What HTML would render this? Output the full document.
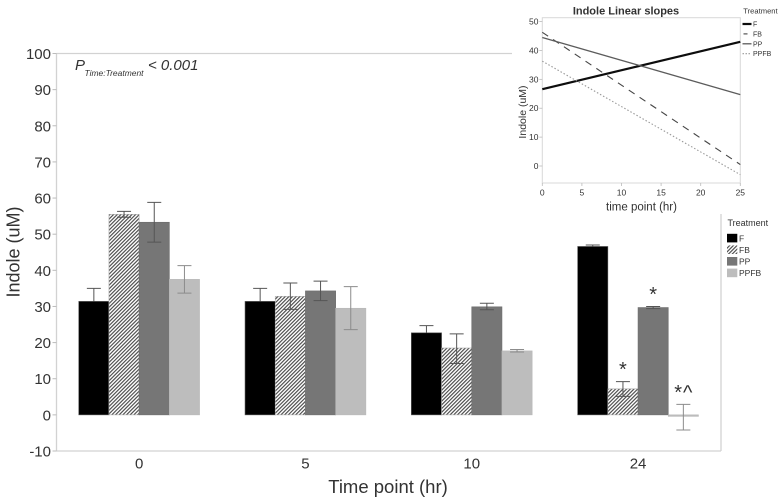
<!DOCTYPE html>
<html>
<head>
<meta charset="utf-8">
<title>Indole chart</title>
<style>
html,body{margin:0;padding:0;background:#fff;}
#chart{display:block;width:783px;height:501px;font-family:"Liberation Sans",sans-serif;}
text{fill:#333;}
</style>
</head>
<body>
<svg id="chart" xmlns="http://www.w3.org/2000/svg" width="783" height="501" viewBox="0 0 783 501">
<defs>
<pattern id="hatch" width="2.6" height="2.6" patternUnits="userSpaceOnUse" patternTransform="rotate(45)">
<rect width="2.6" height="2.6" fill="#ffffff"></rect>
<rect width="1.15" height="2.6" fill="#4a4a4a"></rect>
</pattern>
<filter id="soft" x="-5%" y="-5%" width="110%" height="110%">
<feGaussianBlur stdDeviation="0.3"></feGaussianBlur>
</filter>
</defs>
<g id="main"></g>
<g id="inset" filter="url(#soft)"></g>
<g id="legend-main"></g>
<g id="legend-inset" filter="url(#soft)"></g>
</svg>
<script>
// Main chart data
var timePoints = ["0", "5", "10", "24"];
var treatments = ["F", "FB", "PP", "PPFB"];
var meanF = [31.4, 31.4, 22.7, 46.6];
var meanFB = [55.5, 32.8, 18.5, 7.2];
var meanPP = [53.3, 34.3, 29.9, 29.7];
var meanPPFB = [37.5, 29.5, 17.7, -0.3];
var upperF = [35, 35, 24.7, 47];
var upperFB = [56.3, 36.5, 22.4, 9.2];
var upperPP = [58.8, 37, 30.9, 30];
var upperPPFB = [41.3, 35.5, 18.1, 2.9];
var lowerF = [27.8, 27.8, 20.7, 46.2];
var lowerFB = [54.7, 29.2, 14.2, 5.1];
var lowerPP = [47.8, 31.6, 29.1, 29.4];
var lowerPPFB = [33.7, 23.6, 17.4, -4.2];
var yTicks = [-10, 0, 10, 20, 30, 40, 50, 60, 70, 80, 90, 100];
var sigGroups = [3, 3, 3];
var sigSeries = [1, 2, 3];
var sigLabels = ["*", "*", "*^"];

// Inset chart data
var insetTimes = [0, 25];
var slopeF = [26.6, 43];
var slopeFB = [46.3, 0.5];
var slopePP = [44.5, 24.7];
var slopePPFB = [36.3, -3];
var insetXTicks = [0, 5, 10, 15, 20, 25];
var insetYTicks = [0, 10, 20, 30, 40, 50];

var NS = "http://www.w3.org/2000/svg";
function make(parent, tag, props, content) {
  var node = document.createElementNS(NS, tag);
  for (var k in props) node.setAttribute(k, props[k]);
  if (content !== undefined) node.textContent = content;
  parent.appendChild(node);
  return node;
}

var main = document.getElementById("main");
var inset = document.getElementById("inset");
var legendMain = document.getElementById("legend-main");
var legendInset = document.getElementById("legend-inset");

// Main axes
var plotLeft = 56.5, plotRight = 721, plotTop = 53.5, plotBottom = 451;
var yMin = -10, yMax = 100;
function yScale(v) { return plotBottom - (v - yMin) / (yMax - yMin) * (plotBottom - plotTop); }
var bandStart = 56, bandWidth = 166.3, barWidth = 30.2;
function xBar(groupIndex, seriesIndex) {
  return bandStart + bandWidth * (groupIndex + 0.5) + barWidth * (seriesIndex - treatments.length / 2);
}

var axisColor = "#d2d2d2";
var a;
a = make(main, "line", {x1: plotLeft, y1: plotTop, x2: plotLeft, y2: plotBottom, stroke: axisColor, "stroke-width": 1.3});


a = make(main, "line", {x1: plotLeft, y1: plotBottom, x2: plotRight, y2: plotBottom, stroke: axisColor, "stroke-width": 1.3});


a = make(main, "line", {x1: plotLeft, y1: plotTop, x2: 512, y2: plotTop, stroke: axisColor, "stroke-width": 1.3});


a = make(main, "line", {x1: plotRight, y1: 214, x2: plotRight, y2: plotBottom, stroke: axisColor, "stroke-width": 1.3});



yTicks.forEach(function (t) {
  var tick = make(main, "line", {x1: plotLeft - 4, y1: yScale(t), x2: plotLeft, y2: yScale(t), stroke: "#bbb", "stroke-width": 1});
  
  
  var label = make(main, "text", {x: 51, y: yScale(t) + 5.5, "text-anchor": "end", "font-size": 15}, String(t));
  
  
});

timePoints.forEach(function (t, i) {
  var label = make(main, "text", {x: bandStart + bandWidth * (i + 0.5), y: 468.5, "text-anchor": "middle", "font-size": 15}, t);
  
  
});

a = make(main, "text", {x: 388, y: 493, "text-anchor": "middle", "font-size": 18.5}, "Time point (hr)");


a = make(main, "text", {x: 19.5, y: 252, "text-anchor": "middle", "font-size": 18, transform: "rotate(-90 19.5 252)"}, "Indole (uM)");



// P-value annotation
a = make(main, "text", {x: 75, y: 70, "font-size": 15, "font-style": "italic"}, "P");


a = make(main, "text", {x: 84.5, y: 76, "font-size": 8.5, "font-style": "italic", textLength: 59, lengthAdjust: "spacingAndGlyphs"}, "Time:Treatment");


a = make(main, "text", {x: 148, y: 70, "font-size": 15, "font-style": "italic"}, "< 0.001");



// Bars and error bars
var meanSeries = [meanF, meanFB, meanPP, meanPPFB];
var upperSeries = [upperF, upperFB, upperPP, upperPPFB];
var lowerSeries = [lowerF, lowerFB, lowerPP, lowerPPFB];
var barFills = ["#000000", "url(#hatch)", "#767676", "#bdbdbd"];
var barStrokes = ["#555", "#aaa", "#6c6c6c", "#b8b8b8"];
var errColors = ["#555", "#555", "#555", "#8c8c8c"];

function drawError(s, g) {
  var cx = xBar(g, s) + barWidth / 2;
  var up = yScale(upperSeries[s][g]), lo = yScale(lowerSeries[s][g]);
  var err = make(main, "path", {d: "M" + (cx - 7) + " " + up + "H" + (cx + 7) + "M" + cx + " " + up + "V" + lo + "M" + (cx - 7) + " " + lo + "H" + (cx + 7), fill: "none", stroke: errColors[s], "stroke-width": 1});
  
  
}

// The black F bars hide the lower half of their error bars, so those are drawn first
meanF.forEach(function (v, g) { drawError(0, g); });

meanSeries.forEach(function (values, s) {
  values.forEach(function (v, g) {
    var x = xBar(g, s);
    var y0 = yScale(0), y1 = yScale(v);
    var bar = make(main, "rect", {x: x, y: Math.min(y0, y1), width: barWidth, height: Math.max(Math.abs(y0 - y1), 1.5), fill: barFills[s], stroke: barStrokes[s], "stroke-width": 0.6});
    
    
  });
});
meanSeries.forEach(function (values, s) {
  if (s === 0) return;
  values.forEach(function (v, g) { drawError(s, g); });
});

// Significance markers
sigLabels.forEach(function (label, i) {
  var g = sigGroups[i], s = sigSeries[i];
  var cx = xBar(g, s) + barWidth / 2;
  var base = yScale(upperSeries[s][g]);
  var mark = make(main, "text", {x: cx + 0.5, y: base - 5.5, "text-anchor": "middle", "font-size": 20, "letter-spacing": 1}, label);
  
  
});

// Legend for main chart
a = make(legendMain, "text", {x: 727.5, y: 226, "font-size": 9}, "Treatment");


treatments.forEach(function (name, i) {
  var rowY = 233.8 + i * 11.6;
  var sw = make(legendMain, "rect", {x: 727, y: rowY, width: 10.3, height: 8.6, fill: barFills[i], stroke: "none"});
  
  
  var lbl = make(legendMain, "text", {x: 739, y: rowY + 7.6, "font-size": 8.5}, name);
  
  
});

// Inset axes
var iLeft = 542.3, iRight = 740.3, iTop = 17.7, iBottom = 183;
function ix(v) { return iLeft + (v - insetTimes[0]) / (insetTimes[1] - insetTimes[0]) * (iRight - iLeft); }
function iy(v) { return 166 - v * 2.888; }

a = make(inset, "rect", {x: iLeft, y: iTop, width: iRight - iLeft, height: iBottom - iTop, fill: "#fff", stroke: "#d8d8d8", "stroke-width": 1});



insetYTicks.forEach(function (t) {
  var tick = make(inset, "line", {x1: iLeft - 3, y1: iy(t), x2: iLeft, y2: iy(t), stroke: "#bbb", "stroke-width": 0.8});
  
  
  var label = make(inset, "text", {x: 538.5, y: iy(t) + 3, "text-anchor": "end", "font-size": 8.5}, String(t));
  
  
});
insetXTicks.forEach(function (t) {
  var tick = make(inset, "line", {x1: ix(t), y1: iBottom, x2: ix(t), y2: iBottom + 3, stroke: "#bbb", "stroke-width": 0.8});
  
  
  var label = make(inset, "text", {x: ix(t), y: 195.5, "text-anchor": "middle", "font-size": 8.5}, String(t));
  
  
});

var slopeSeries = [slopeF, slopeFB, slopePP, slopePPFB];
var slopeColors = ["#111", "#444", "#5c5c5c", "#999"];
var slopeWidths = [2.2, 1.1, 1.3, 1.1];
var slopeDash = ["none", "7 6", "none", "1.5 2"];
slopeSeries.forEach(function (vals, s) {
  var ln = make(inset, "line", {x1: ix(insetTimes[0]), y1: iy(vals[0]), x2: ix(insetTimes[1]), y2: iy(vals[1]), stroke: slopeColors[s], "stroke-width": slopeWidths[s], "stroke-dasharray": slopeDash[s]});
  
  
});

a = make(inset, "text", {x: 626, y: 14.5, "text-anchor": "middle", "font-size": 11, "font-weight": "bold"}, "Indole Linear slopes");


a = make(inset, "text", {x: 641.5, y: 210.5, "text-anchor": "middle", "font-size": 11.5}, "time point (hr)");


a = make(inset, "text", {x: 526, y: 112, "text-anchor": "middle", "font-size": 10.5, transform: "rotate(-90 526 112)"}, "Indole (uM)");



// Inset legend
a = make(legendInset, "text", {x: 743.3, y: 13.5, "font-size": 7.6}, "Treatment");


var insetKeyDash = ["none", "4 0", "none", "1.5 1.5"];
var insetKeyStart = [742.5, 743.5, 742.5, 742.5];
var insetKeyEnd = [751.5, 747.5, 751.5, 751.5];
treatments.forEach(function (name, i) {
  var rowY = 24 + i * 9.9;
  var key = make(legendInset, "line", {x1: insetKeyStart[i], y1: rowY, x2: insetKeyEnd[i], y2: rowY, stroke: slopeColors[i], "stroke-width": slopeWidths[i], "stroke-dasharray": insetKeyDash[i]});
  
  
  var lbl = make(legendInset, "text", {x: 753, y: rowY + 2.5, "font-size": 7}, name);
  
  
});
</script>
</body>
</html>
